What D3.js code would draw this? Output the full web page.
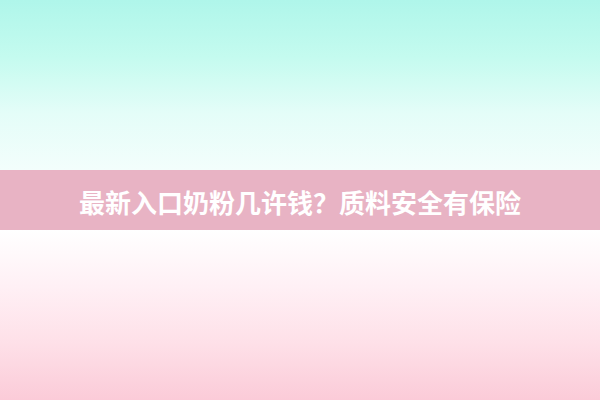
<!DOCTYPE html>
<html>
<head>
<meta charset="utf-8">
<script src="https://cdn.jsdelivr.net/npm/d3@7"></script>
<style>
  html, body { margin: 0; padding: 0; background: #fff; }
  svg { display: block; }
</style>
</head>
<body>
<div id="banner"></div>
<script>
const titleText = ['最新入口奶粉几许钱？质料安全有保险'];
const topStops = ['#aff6ea', '#c4fbef', '#e4fdf8', '#f3fefc'];
const bottomStops = ['#ffffff', '#fff0f5', '#fee0e8', '#fbcbd8'];
const bandColor = ['#e8b3c4'];

const width = 600;
const height = 400;

const wrapper = d3
  .select('#banner')
  .append('svg')
  .attr('width', width)
  .attr('height', height);

const defs = wrapper.append('defs');

const addGradient = (id, colors) => {
  defs
    .append('linearGradient')
    .attr('id', id)
    .attr('x1', 0).attr('y1', 0)
    .attr('x2', 0).attr('y2', 1)
    .selectAll('stop')
    .data(colors)
    .enter()
    .append('stop')
    .attr('offset', (d, i) => `${(i / (colors.length - 1)) * 100}%`)
    .attr('stop-color', d => d);
};
addGradient('top-gradient', topStops);
addGradient('bottom-gradient', bottomStops);

// vertical layout, pixels
const yScale = d3.scaleLinear().domain([0, 1]).range([0, height]);
const bandTop = 170;
const bandBottom = 230;

wrapper
  .append('rect')
  .attr('x', 0)
  .attr('y', yScale(0))
  .attr('width', width)
  .attr('height', bandTop)
  .style('fill', 'url(#top-gradient)');

wrapper
  .append('rect')
  .attr('x', 0)
  .attr('y', bandBottom)
  .attr('width', width)
  .attr('height', yScale(1) - bandBottom)
  .style('fill', 'url(#bottom-gradient)');

wrapper
  .append('rect')
  .attr('x', 0)
  .attr('y', bandTop)
  .attr('width', width)
  .attr('height', bandBottom - bandTop)
  .style('fill', bandColor[0]);

wrapper
  .selectAll('text.title')
  .data(titleText)
  .enter()
  .append('text')
  .attr('class', 'title')
  .attr('x', width / 2)
  .attr('y', (bandTop + bandBottom) / 2 + 1)
  .attr('text-anchor', 'middle')
  .attr('dominant-baseline', 'central')
  .style('font-family', '"Noto Sans CJK SC", sans-serif')
  .style('font-weight', 'bold')
  .style('font-size', '26px')
  .style('fill', '#ffffff')
  .text(d => d);
</script>
</body>
</html>
